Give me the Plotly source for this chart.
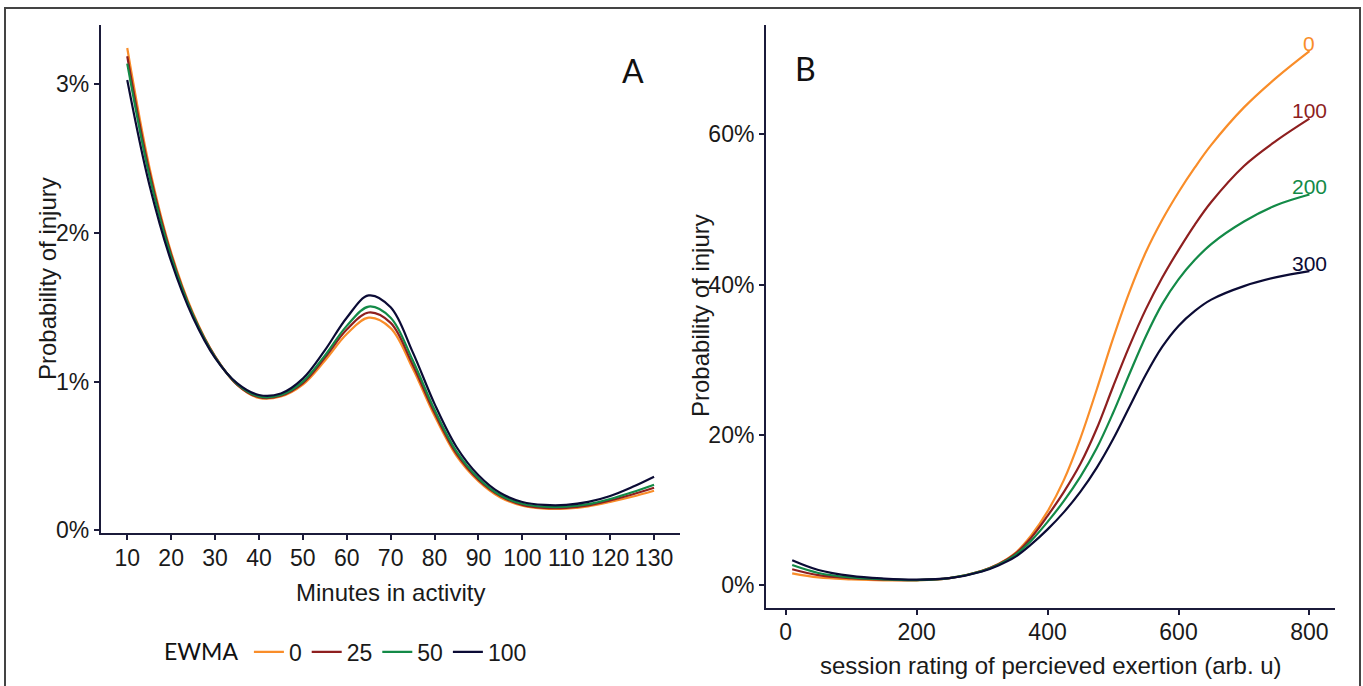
import plotly.graph_objects as go

# ---------------- Panel A data ----------------
minutes = [10, 15, 20, 25, 30, 35, 40, 45, 50, 55, 60, 65, 70, 75, 80, 85, 90, 95, 100, 105, 110, 115, 120, 125, 130]
ewma_levels = ["0", "25", "50", "100"]
prob_ewma_0 = [3.245, 2.45, 1.87, 1.46, 1.17, 0.98, 0.89, 0.90, 0.98, 1.14, 1.32, 1.43, 1.36, 1.09, 0.77, 0.50, 0.33, 0.22, 0.165, 0.145, 0.145, 0.16, 0.19, 0.225, 0.265]
prob_ewma_25 = [3.19, 2.42, 1.855, 1.45, 1.17, 0.98, 0.895, 0.905, 0.99, 1.16, 1.35, 1.465, 1.395, 1.115, 0.79, 0.515, 0.34, 0.23, 0.17, 0.15, 0.15, 0.167, 0.20, 0.24, 0.286]
prob_ewma_50 = [3.14, 2.39, 1.84, 1.445, 1.165, 0.985, 0.90, 0.91, 1.00, 1.175, 1.375, 1.505, 1.43, 1.145, 0.81, 0.53, 0.35, 0.235, 0.178, 0.158, 0.158, 0.175, 0.21, 0.255, 0.306]
prob_ewma_100 = [3.03, 2.33, 1.81, 1.43, 1.16, 0.99, 0.91, 0.92, 1.02, 1.21, 1.43, 1.58, 1.50, 1.20, 0.85, 0.56, 0.37, 0.25, 0.19, 0.17, 0.17, 0.19, 0.23, 0.29, 0.36]

# ---------------- Panel B data ----------------
srpe = [10, 50, 100, 150, 200, 250, 300, 325, 350, 375, 400, 425, 450, 475, 500, 525, 550, 575, 600, 625, 650, 700, 750, 800]
load_levels = ["0", "100", "200", "300"]
prob_load_0 = [1.55, 1.0, 0.75, 0.62, 0.62, 0.9, 1.9, 2.8, 4.2, 6.6, 9.8, 14.0, 19.5, 26.0, 32.8, 39.0, 44.3, 48.6, 52.3, 55.6, 58.6, 63.6, 67.6, 71.1]
prob_load_100 = [2.1, 1.3, 0.9, 0.7, 0.65, 0.9, 1.9, 2.75, 4.1, 6.3, 9.2, 12.4, 16.1, 20.8, 26.4, 31.8, 36.7, 40.9, 44.6, 48.0, 51.0, 55.8, 59.2, 62.1]
prob_load_200 = [2.65, 1.6, 1.0, 0.75, 0.65, 0.9, 1.85, 2.7, 3.95, 5.9, 8.4, 11.2, 14.4, 18.2, 22.9, 28.1, 33.1, 37.4, 40.7, 43.3, 45.4, 48.4, 50.6, 52.0]
prob_load_300 = [3.3, 2.0, 1.2, 0.85, 0.7, 0.9, 1.8, 2.6, 3.7, 5.4, 7.4, 9.7, 12.4, 15.6, 19.4, 23.7, 28.0, 31.7, 34.5, 36.5, 38.0, 39.8, 41.0, 41.8]

colors = ["#F98D29", "#8E1F1F", "#138A47", "#0B0B35"]
axis_col = "#1B1B3A"
W, H = 1363, 686
SANS = "Liberation Sans, Arial, sans-serif"

fig = go.Figure()

series_a = [prob_ewma_0, prob_ewma_25, prob_ewma_50, prob_ewma_100]
for name, ys, c in zip(ewma_levels, series_a, colors):
    fig.add_trace(go.Scatter(x=minutes, y=ys, mode="lines", name=name,
                             line=dict(color=c, width=2.2, shape="spline", smoothing=1.0),
                             xaxis="x", yaxis="y", showlegend=True))

series_b = [prob_load_0, prob_load_100, prob_load_200, prob_load_300]
for name, ys, c in zip(load_levels, series_b, colors):
    fig.add_trace(go.Scatter(x=srpe, y=ys, mode="lines", name=name,
                             line=dict(color=c, width=2.2, shape="spline", smoothing=1.0),
                             xaxis="x2", yaxis="y2", showlegend=False))

tickfont = dict(family=SANS, size=23, color="#1a1a1a")
common = dict(showline=True, linecolor=axis_col, linewidth=2, ticks="outside",
              ticklen=5, tickwidth=1.5, tickcolor=axis_col, showgrid=False,
              zeroline=False, tickfont=tickfont, automargin=False)

fig.update_layout(
    width=W, height=H, margin=dict(l=0, r=0, t=0, b=0, pad=0, autoexpand=False),
    paper_bgcolor="white", plot_bgcolor="white",
    xaxis=dict(domain=[100.9 / W, 680.4 / W], range=[4, 136], anchor="y",
               tickvals=list(range(10, 131, 10)), ticklabelstandoff=-2, **common),
    yaxis=dict(domain=[1 - 533 / H, 1 - 25 / H], range=[-0.019, 3.40], anchor="x",
               tickvals=[0, 1, 2, 3], ticktext=["0%", "1%", "2%", "3%"], **common),
    xaxis2=dict(domain=[766 / W, 1335 / W], range=[-30, 839], anchor="y2",
                tickvals=[0, 200, 400, 600, 800], ticklabelstandoff=-2, **common),
    yaxis2=dict(domain=[1 - 607.5 / H, 1 - 25 / H], range=[-3.0, 74.57], anchor="x2",
                tickvals=[0, 20, 40, 60], ticktext=["0%", "20%", "40%", "60%"], **common),
    showlegend=True,
    legend=dict(orientation="h", x=162 / W, xanchor="left", y=1 - 652 / H, yanchor="middle",
                title=dict(text="EWMA\u2009", font=dict(family="Lato, sans-serif", size=23, color="#111"), side="left"),
                font=dict(family=SANS, size=23, color="#1a1a1a"),
                bgcolor="rgba(0,0,0,0)", traceorder="normal"),
)

title_font = dict(family=SANS, size=24, color="#1a1a1a")
annotations = [
    dict(text="Minutes in activity", x=390.6 / W, y=1 - 592 / H, xref="paper", yref="paper",
         showarrow=False, xanchor="center", yanchor="middle", font=title_font),
    dict(text="session rating of percieved exertion (arb. u)", x=1050.5 / W, y=1 - 665 / H,
         xref="paper", yref="paper", showarrow=False, xanchor="center", yanchor="middle", font=title_font),
    dict(text="Probability of injury", x=47 / W, y=1 - 279 / H, xref="paper", yref="paper",
         showarrow=False, textangle=-90, xanchor="center", yanchor="middle", font=title_font),
    dict(text="Probability of injury", x=700 / W, y=1 - 316 / H, xref="paper", yref="paper",
         showarrow=False, textangle=-90, xanchor="center", yanchor="middle", font=title_font),
    dict(text="A", x=633 / W, y=1 - 70 / H, xref="paper", yref="paper", showarrow=False,
         xanchor="center", yanchor="middle", font=dict(family="Lato, sans-serif", size=32, color="#111")),
    dict(text="B", x=805 / W, y=1 - 69 / H, xref="paper", yref="paper", showarrow=False,
         xanchor="center", yanchor="middle", font=dict(family="Lato, sans-serif", size=32, color="#111")),
]
for name, ys, c in zip(load_levels, series_b, colors):
    annotations.append(dict(text=name, x=srpe[-1], y=ys[-1], xref="x2", yref="y2", showarrow=False,
                            xanchor="center", yanchor="middle", yshift=8,
                            font=dict(family=SANS, size=21, color=c)))
fig.update_layout(annotations=annotations)

fig.add_shape(type="rect", xref="paper", yref="paper", x0=5 / W, x1=1360 / W, y0=-0.02, y1=1 - 8 / H,
              line=dict(color="#444444", width=2), fillcolor="rgba(0,0,0,0)", layer="below")

fig.write_html("out.html", config={"displayModeBar": False},
               post_script="document.body.style.margin='0';")
